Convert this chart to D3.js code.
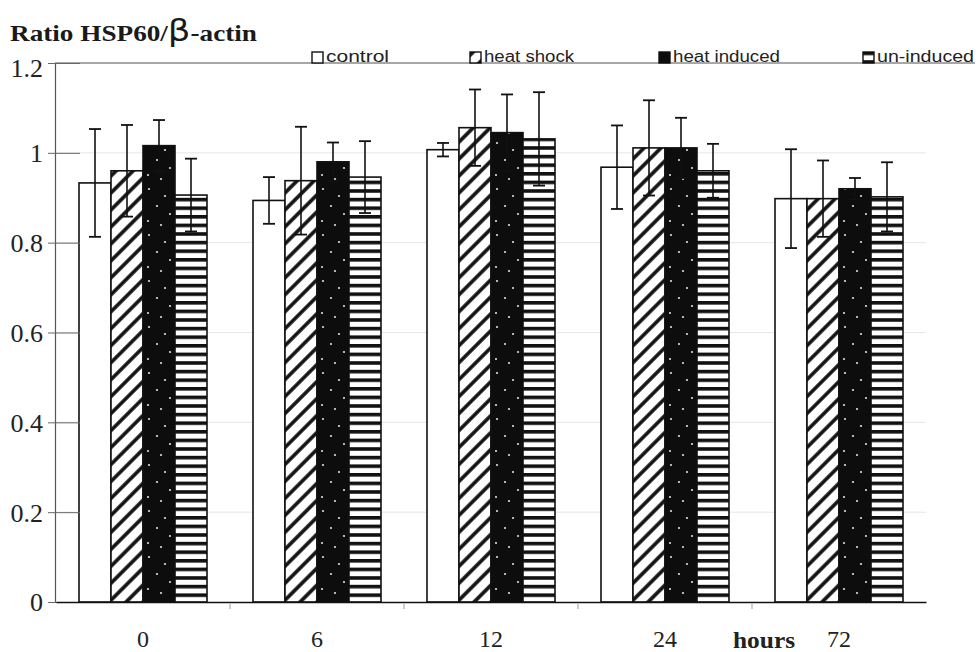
<!DOCTYPE html>
<html>
<head>
<meta charset="utf-8">
<script src="https://cdn.jsdelivr.net/npm/d3@7"></script>
<style>
  html, body { margin: 0; padding: 0; background: #fff; }
  svg { display: block; }
</style>
</head>
<body>
<svg id="chart" width="980" height="652"></svg>
<script>
// ---------------- data ----------------
const hours = ["0", "6", "12", "24", "72"];
const seriesNames = ["control", "heat shock", "heat induced", "un-induced"];
const control      = [0.933, 0.894, 1.007, 0.968, 0.898];
const heatShock    = [0.960, 0.938, 1.056, 1.011, 0.898];
const heatInduced  = [1.016, 0.980, 1.045, 1.011, 0.920];
const unInduced    = [0.906, 0.946, 1.031, 0.960, 0.902];
const controlErr     = [0.120, 0.052, 0.015, 0.093, 0.110];
const heatShockErr   = [0.102, 0.120, 0.085, 0.106, 0.085];
const heatInducedErr = [0.057, 0.043, 0.085, 0.067, 0.024];
const unInducedErr   = [0.081, 0.080, 0.104, 0.060, 0.077];
const yTicks = [0, 0.2, 0.4, 0.6, 0.8, 1, 1.2];
const yTickLabels = ["0", "0.2", "0.4", "0.6", "0.8", "1", "1.2"];
const xAxisTitle = "hours";
const yAxisTitle = "Ratio HSP60/";

// ---------------- build table ----------------
const values = [control, heatShock, heatInduced, unInduced];
const errors = [controlErr, heatShockErr, heatInducedErr, unInducedErr];
const rows = [];
hours.forEach((h, i) => {
  seriesNames.forEach((s, j) => {
    rows.push({ hour: h, series: s, value: values[j][i], err: errors[j][i] });
  });
});

// ---------------- layout ----------------
const svg = d3.select("#chart");
const plotLeft = 55, plotRight = 926, plotTop = 63, plotBottom = 602;
const groupWidth = 128;

const x = d3.scaleBand().domain(hours).range([plotLeft + 1, plotRight]).padding(0);
const xInner = d3.scaleBand().domain(seriesNames).range([0, groupWidth]).padding(0);
const groupOffset = (x.bandwidth() - groupWidth) / 2;
const y = d3.scaleLinear().domain([0, 1.2]).range([plotBottom, plotTop]);

// ---------------- patterns ----------------
const defs = svg.append("defs");
const hatch = defs.append("pattern")
  .attr("id", "hatch").attr("patternUnits", "userSpaceOnUse")
  .attr("width", 12).attr("height", 12)
  .attr("patternTransform", "rotate(45)");
hatch.append("rect").attr("width", 12).attr("height", 12).attr("fill", "#fff");
hatch.append("line").attr("x1", 3).attr("y1", 0).attr("x2", 3).attr("y2", 12)
  .attr("stroke", "#111").attr("stroke-width", 3.6);

const stripes = defs.append("pattern")
  .attr("id", "stripes").attr("patternUnits", "userSpaceOnUse")
  .attr("width", 10).attr("height", 8.6);
stripes.append("rect").attr("width", 10).attr("height", 8.6).attr("fill", "#fff");
stripes.append("rect").attr("width", 10).attr("height", 3.6).attr("fill", "#111");

const dots = defs.append("pattern")
  .attr("id", "dots").attr("patternUnits", "userSpaceOnUse")
  .attr("width", 32).attr("height", 46);
dots.append("rect").attr("width", 32).attr("height", 46).attr("fill", "#0d0d0d");
[[6, 5], [22, 12], [14, 22], [27, 30], [5, 37], [18, 41]].forEach(p => {
  dots.append("circle").attr("cx", p[0]).attr("cy", p[1]).attr("r", 1.1).attr("fill", "#ddd");
});

const fills = { "control": "#fff", "heat shock": "url(#hatch)", "heat induced": "url(#dots)", "un-induced": "url(#stripes)" };

// ---------------- faint grid ----------------
svg.append("g").selectAll("line").data(yTicks.slice(1, -1)).join("line")
  .attr("x1", plotLeft).attr("x2", plotRight)
  .attr("y1", d => y(d)).attr("y2", d => y(d))
  .attr("stroke", "#e6e6e6").attr("stroke-width", 1);

// top border line (extends under legend)
svg.append("line").attr("x1", plotLeft).attr("x2", 975)
  .attr("y1", y(1.2)).attr("y2", y(1.2))
  .attr("stroke", "#8a8a8a").attr("stroke-width", 1.4);

// ---------------- bars ----------------
const groups = svg.append("g").selectAll("g").data(hours).join("g")
  .attr("transform", d => `translate(${x(d) + groupOffset},0)`);

groups.selectAll("rect").data(h => rows.filter(r => r.hour === h)).join("rect")
  .attr("x", d => xInner(d.series))
  .attr("y", d => y(d.value))
  .attr("width", xInner.bandwidth())
  .attr("height", d => y(0) - y(d.value))
  .attr("fill", d => fills[d.series])
  .attr("stroke", "#111").attr("stroke-width", 1.6);

// error bars
const capW = 12;
const eb = groups.selectAll("g.err").data(h => rows.filter(r => r.hour === h)).join("g").attr("class", "err");
eb.append("line")
  .attr("x1", d => xInner(d.series) + xInner.bandwidth() / 2)
  .attr("x2", d => xInner(d.series) + xInner.bandwidth() / 2)
  .attr("y1", d => y(d.value + d.err)).attr("y2", d => y(d.value - d.err))
  .attr("stroke", "#111").attr("stroke-width", 1.6);
eb.selectAll("line.cap").data(d => [
    { d, v: d.value + d.err }, { d, v: d.value - d.err }]).join("line").attr("class", "cap")
  .attr("x1", o => xInner(o.d.series) + xInner.bandwidth() / 2 - capW / 2)
  .attr("x2", o => xInner(o.d.series) + xInner.bandwidth() / 2 + capW / 2)
  .attr("y1", o => y(o.v)).attr("y2", o => y(o.v))
  .attr("stroke", "#111").attr("stroke-width", 1.8);

// ---------------- axes ----------------
// y axis
const yAxis = d3.axisLeft(y).tickValues(yTicks)
  .tickFormat((d, i) => yTickLabels[i]).tickSizeInner(-25).tickSizeOuter(0).tickPadding(12);
const yg = svg.append("g").attr("transform", `translate(${plotLeft},0)`).call(yAxis);
yg.select(".domain").attr("stroke", "#555").attr("stroke-width", 1.2);
yg.selectAll(".tick line").attr("stroke", "#666").attr("stroke-width", 1)
  .attr("x1", -7);
yg.selectAll(".tick text")
  .attr("font-family", "'Liberation Serif', 'Times New Roman', serif")
  .attr("font-size", 26).attr("fill", "#222").attr("x", -12).attr("dy", "0.34em");
yg.selectAll(".tick").filter(d => d === 1.2).select("text").attr("dy", "0.5em");

// x axis
const xAxis = d3.axisBottom(x).tickSize(0).tickPadding(0);
const xg = svg.append("g").attr("transform", `translate(0,${plotBottom})`).call(xAxis);
xg.select(".domain").attr("stroke", "#111").attr("stroke-width", 1.6);
xg.selectAll(".tick text")
  .attr("font-family", "'Liberation Serif', 'Times New Roman', serif")
  .attr("font-size", 24).attr("fill", "#222")
  .attr("y", 45).attr("dy", 0);
// small tick marks at group boundaries
svg.append("g").selectAll("line").data(hours.slice(1)).join("line")
  .attr("x1", d => x(d)).attr("x2", d => x(d))
  .attr("y1", plotBottom + 2).attr("y2", plotBottom + 7)
  .attr("stroke", "#999").attr("stroke-width", 1);

// x axis title
svg.append("text").attr("x", 764).attr("y", 648).attr("text-anchor", "middle")
  .attr("font-family", "'Liberation Serif', 'Times New Roman', serif")
  .attr("font-weight", "bold").attr("font-size", 24).attr("fill", "#222")
  .attr("textLength", 62).attr("lengthAdjust", "spacingAndGlyphs")
  .text(xAxisTitle);

// y axis title
const title = svg.append("text").attr("x", 10).attr("y", 41)
  .attr("font-family", "'Liberation Serif', 'Times New Roman', serif")
  .attr("font-weight", "bold").attr("font-size", 23).attr("fill", "#1a1a1a")
  .attr("textLength", 247).attr("lengthAdjust", "spacingAndGlyphs");
title.append("tspan").text(yAxisTitle);
title.append("tspan").attr("font-weight", "normal").attr("font-size", 30)
  .attr("font-family", "'DejaVu Sans', sans-serif").text("β");
title.append("tspan").text("-actin");

// ---------------- legend ----------------
const legendBoxX = [312, 470, 659, 863];
const legendTextW = [63, 90, 107, 97];
const leg = svg.append("g").selectAll("g").data(seriesNames).join("g")
  .attr("transform", (d, i) => `translate(${legendBoxX[i]},0)`);
leg.append("rect").attr("x", 0).attr("y", 52).attr("width", 11).attr("height", 11)
  .attr("fill", d => fills[d]).attr("stroke", "#111").attr("stroke-width", 1.4);
leg.append("text").attr("x", 14).attr("y", 62)
  .attr("font-family", "'Liberation Sans', Arial, sans-serif")
  .attr("font-size", 16).attr("fill", "#222")
  .attr("textLength", (d, i) => legendTextW[i]).attr("lengthAdjust", "spacingAndGlyphs")
  .text(d => d);
</script>
</body>
</html>
